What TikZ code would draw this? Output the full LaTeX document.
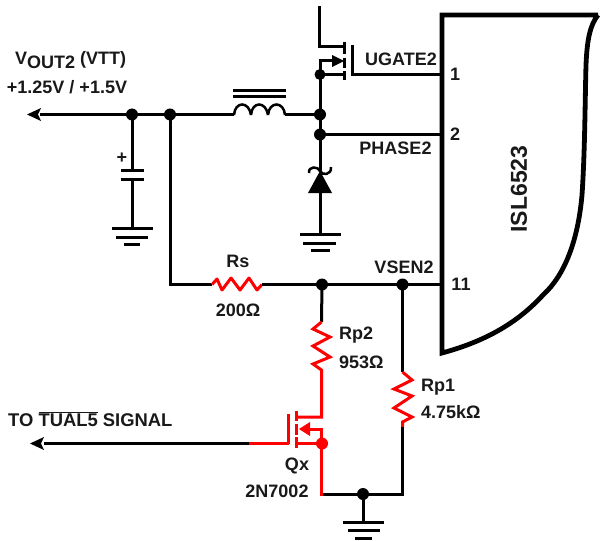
\documentclass[tikz,border=0pt]{standalone}
\usepackage{fontspec}
\setmainfont{Liberation Sans}
\usetikzlibrary{arrows.meta}
\definecolor{wred}{RGB}{255,0,0}
\tikzset{
 wire/.style={line width=3pt,black,line cap=butt,line join=miter},
 rwire/.style={wire,draw=wred},
 dotn/.style={circle,fill=black,inner sep=0pt,minimum size=12pt},
 rdot/.style={circle,fill=wred,inner sep=0pt,minimum size=12pt},
 lbl/.style={font=\bfseries\fontsize{18}{20}\selectfont,text=black!90,inner sep=0pt},
}
\begin{document}
\begin{tikzpicture}[x=1pt,y=-1pt]
\useasboundingbox (0,0) rectangle (601,540);
% chip
\draw[line width=4.8pt,line join=miter] (598,15) -- (442,15) -- (442,353)
  .. controls (490,340) and (520,320) .. (543,295)
  .. controls (565,275) and (578,240) .. (582,195)
  .. controls (585,150) and (585,100) .. (586,65)
  .. controls (587,40) and (590,25) .. (598,15);
% named points
\coordinate (vout) at (40,114.5);
\node[dotn] (d1) at (132,114.5) {};
\node[dotn] (d2) at (170,114.5) {};
\node[dotn] (d3) at (320,114.5) {};
\node[dotn] (d4) at (320,134.5) {};
\node[dotn,minimum size=11pt] (d5) at (320,74.5) {};
\node[dotn] (d6) at (322,284.5) {};
\node[dotn] (d7) at (402.5,284.5) {};
\node[dotn] (d8) at (363,494) {};
% output
\fill[black] (27,114.5) -- (41,108) -- (38,114.5) -- (41,121) -- cycle;
\draw[wire] (vout) -- (d1.center) -- (d2.center) -- (234,114.5);
\draw[wire] (285,114.5) -- (d3.center);
% inductor
\draw[wire] (233,91) -- (286,91) (233,97) -- (286,97);
\draw[wire,line width=2.5pt] (234,115) .. controls (235,101) and (249,101) .. (251,115)
 (251,115) .. controls (252,101) and (266,101) .. (268,115)
 (268,115) .. controls (269,101) and (284,101) .. (285,115);
% capacitor
\draw[wire] (d1.center) -- (132,170) (132,180) -- (132,228);
\draw[wire] (121,170.5) -- (144,170.5) (121,179.5) -- (144,179.5);
\node[lbl] (plus) at (122,158) {+};
\draw[wire] (112,228) -- (153,228) (116,237) -- (148,237) (124,244) -- (140,244);
% high mosfet
\draw[wire] (319.5,6) -- (319.5,47) -- (345,47);
\draw[wire] (344.5,42) -- (344.5,54) (344.5,58) -- (344.5,68) (344.5,71) -- (344.5,80);
\draw[wire] (352.5,45) -- (352.5,74.5) -- (440,74.5);
\draw[wire] (d5.center) -- (345,74.5);
\draw[wire] (d5.center) -- (320,61) -- (334,61);
\fill[black] (344,61) -- (332,55) -- (332,67) -- cycle;
\draw[wire] (d5.center) -- (d3.center) -- (d4.center) -- (320,172);
\draw[wire] (d4.center) -- (440,134.5);
% diode
\fill[black] (320,171) -- (332,193) -- (308,193) -- cycle;
\draw[wire,line width=2.5pt] (309,173) .. controls (308,166) and (318,166) .. (320,171)
  .. controls (322,176) and (332,175) .. (331,167);
\draw[wire] (320,190) -- (320,234);
\draw[wire] (300,234.5) -- (341,234.5) (303,243.5) -- (336,243.5) (311,250) -- (330,250);
% Rs line
\draw[wire] (d2.center) -- (170,284.5) -- (212,284.5);
\draw[rwire,line join=round] (212,284.5) -- (217,279) -- (222,290) -- (231,278) -- (240,290) -- (249,278) -- (257,290) -- (262,284.5);
\draw[wire] (262,284.5) -- (d6.center) -- (d7.center) -- (440,284.5);
% Rp2
\draw[wire] (d6.center) -- (321.5,322);
\draw[rwire] (321.5,322) -- (313,329) -- (330,337) -- (313,346) -- (330,357) -- (313,364) -- (321.5,370) -- (321.5,417) -- (296,417);
% Qx
\draw[rwire] (296.5,411) -- (296.5,421) (296.5,424) -- (296.5,435) (296.5,437) -- (296.5,448);
\draw[rwire] (288.5,414) -- (288.5,444);
\draw[wire] (44,443.5) -- (249,443.5);
\draw[rwire] (249,443.5) -- (288.5,443.5);
\fill[black] (30,443.5) -- (44,437) -- (41,443.5) -- (44,450) -- cycle;
\node[rdot] (dq) at (322,443.5) {};
\draw[rwire] (296,443.5) -- (dq.center);
\draw[rwire] (308,429) -- (321.5,429) -- (321.5,495.5);
\fill[wred] (299,429) -- (310,422) -- (310,436) -- cycle;
% Rp1
\draw[wire] (d7.center) -- (402.5,372);
\draw[rwire] (402.5,372) -- (412,380) -- (394,389) -- (412,396) -- (394,408) -- (412,417) -- (402.5,422) -- (402.5,427);
\draw[wire] (402.5,427) -- (402.5,494) -- (d8.center) -- (323,494);
\draw[wire] (d8.center) -- (363,522);
\draw[wire] (343,522) -- (384,522) (348,530) -- (380,530) (355,538) -- (372,538);
% labels
\node[lbl,anchor=base west] (t1) at (15,65) {V\raisebox{-4pt}{OUT2} (VTT)};
\node[lbl] (t2) at (67,87) {+1.25V / +1.5V};
\node[lbl] (t3) at (401,59) {UGATE2};
\node[lbl] (t4) at (395.5,148) {PHASE2};
\node[lbl] (t5) at (455,74) {1};
\node[lbl] (t6) at (455,134) {2};
\node[lbl] (t7) at (461,284) {11};
\node[lbl] (t8) at (404,267) {VSEN2};
\node[lbl] (t9) at (238,261) {Rs};
\node[lbl] (t10) at (238,310) {200Ω};
\node[lbl,anchor=west] (t11) at (339,335) {Rp2};
\node[lbl,anchor=west] (t12) at (339,362) {953Ω};
\node[lbl,anchor=west] (t13) at (421,387) {Rp1};
\node[lbl,anchor=west] (t14) at (421,412) {4.75kΩ};
\node[lbl] (t15) at (297,466) {Qx};
\node[lbl] (t16) at (277,491) {2N7002};
\node[lbl,anchor=west,font=\bfseries\fontsize{18.4}{20}\selectfont] (t17) at (8,419) {TO $\overline{\mbox{TUAL5}}$ SIGNAL};
\node[lbl,rotate=90,font=\bfseries\fontsize{23}{25}\selectfont] (t18) at (519,189) {ISL6523};
\end{tikzpicture}
\end{document}
